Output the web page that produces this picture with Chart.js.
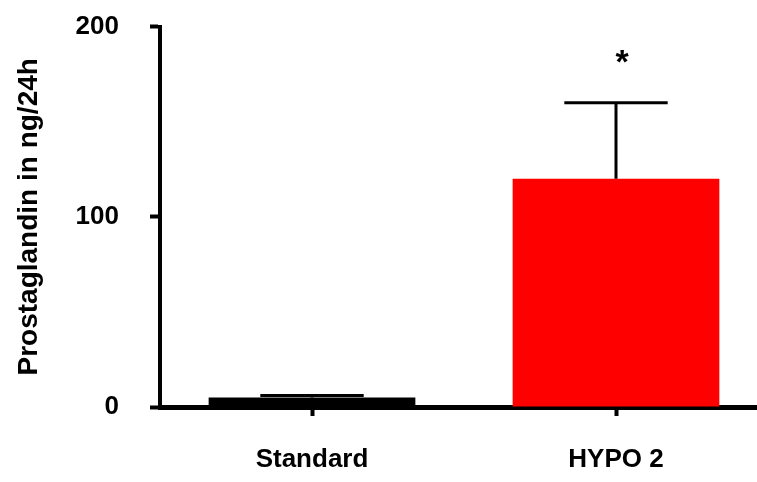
<!DOCTYPE html>
<html>
<head>
<meta charset="utf-8">
<script src="https://cdn.jsdelivr.net/npm/chart.js@4"></script>
<style>
  html, body { margin: 0; padding: 0; background: #fff; overflow: hidden; }
  #wrap { position: absolute; left: 0; top: -20px; width: 772px; height: 502px; }
</style>
</head>
<body>
<div id="wrap"><canvas id="myChart" width="772" height="502"></canvas></div>
<script>
// values
const categories = ['Standard', 'HYPO 2'];
const means = [5, 120];
const errors = [1, 40];
const marks = ['', '*'];
const barColors = ['#000000', '#ff0000'];
const yTicks = [0, 100, 200];

const FONT = "'Liberation Sans', Arial, sans-serif";

// error bars + significance star, drawn through the scales
const errorBars = {
    id: 'errorBars',
    afterDatasetsDraw(chart) {
        const ctx = chart.ctx;
        const y = chart.scales.y;
        const meta = chart.getDatasetMeta(0);
        ctx.save();
        ctx.strokeStyle = '#000';
        ctx.fillStyle = '#000';
        for (let i = 0; i < means.length; i++) {
            const bar = meta.data[i];
            const x = bar.x;
            const yMean = y.getPixelForValue(means[i]);
            const yTop = y.getPixelForValue(means[i] + errors[i]);
            const cap = bar.width / 4;
            ctx.lineWidth = 3;
            ctx.beginPath();
            ctx.moveTo(x, yMean);
            ctx.lineTo(x, yTop);
            ctx.moveTo(x - cap, yTop);
            ctx.lineTo(x + cap, yTop);
            ctx.stroke();
            if (marks[i]) {
                ctx.font = 'bold 34px ' + FONT;
                ctx.textAlign = 'center';
                ctx.textBaseline = 'bottom';
                ctx.fillText(marks[i], x + 6, yTop - 22);
            }
        }
        ctx.restore();
    }
};

var ctx = document.getElementById('myChart');
var chart = new Chart(ctx, {
    type: 'bar',
    data: {
        labels: categories,
        datasets: [
            {
                data: means,
                backgroundColor: barColors,
                borderWidth: 0,
                barPercentage: 0.68,
                categoryPercentage: 1.0,
            },
        ],
    },
    options: {
        responsive: false,
        animation: false,
        layout: { padding: { top: 5, right: 4, left: 0, bottom: 0 } },
        scales: {
            x: {
                grid: {
                    display: true,
                    drawOnChartArea: false,
                    offset: false,
                    tickLength: 9,
                    tickWidth: 4,
                    tickColor: '#000',
                },
                border: { display: true, color: '#000', width: 5 },
                ticks: {
                    color: '#000',
                    padding: 28,
                    font: { family: FONT, size: 26, weight: 'bold' },
                },
                afterFit: (scale) => { scale.height = 75; },
            },
            y: {
                min: 0,
                max: 200,
                afterBuildTicks: (scale) => { scale.ticks = yTicks.map(v => ({ value: v })); },
                grid: {
                    display: true,
                    drawOnChartArea: false,
                    tickLength: 10,
                    tickWidth: 4,
                    tickColor: '#000',
                },
                border: { display: true, color: '#000', width: 4 },
                ticks: {
                    color: '#000',
                    padding: 31,
                    font: { family: FONT, size: 26, weight: 'bold' },
                },
                title: {
                    display: true,
                    text: 'Prostaglandin in ng/24h',
                    color: '#000',
                    padding: { top: 12, bottom: 0 },
                    font: { family: FONT, size: 28, weight: 'bold' },
                },
                afterFit: (scale) => { scale.width = 160; },
            },
        },
        plugins: {
            legend: { display: false },
            tooltip: { enabled: false },
        },
    },
    plugins: [errorBars],
});
</script>
</body>
</html>
